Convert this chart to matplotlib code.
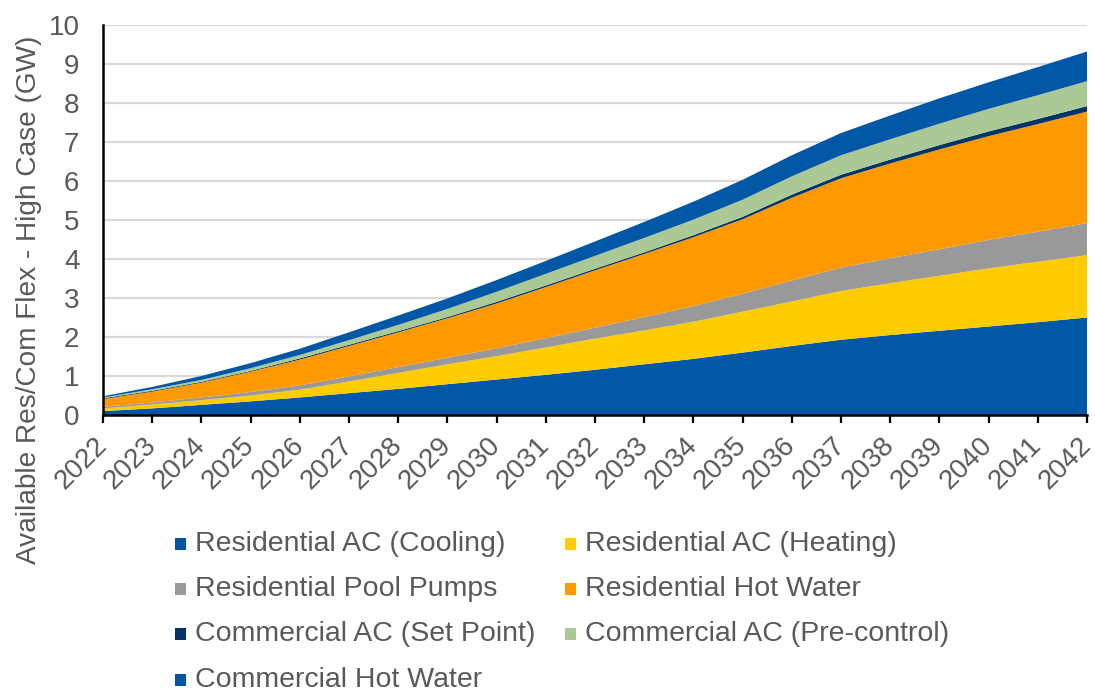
import matplotlib
matplotlib.use("Agg")
import matplotlib.pyplot as plt
from matplotlib.patches import Rectangle
import numpy as np

plt.rcParams['font.family'] = ['Liberation Sans', 'DejaVu Sans']

years = list(range(2022, 2043))

# available flexible capacity by end use, GW (stacked bottom to top)
res_ac_cooling = [0.10, 0.17, 0.26, 0.35, 0.45, 0.56, 0.67, 0.79, 0.91, 1.03, 1.16,
                  1.30, 1.44, 1.60, 1.77, 1.93, 2.05, 2.16, 2.27, 2.38, 2.50]
res_ac_heating = [0.07, 0.10, 0.12, 0.15, 0.20, 0.30, 0.41, 0.51, 0.60, 0.70, 0.80,
                  0.87, 0.95, 1.05, 1.14, 1.25, 1.33, 1.41, 1.49, 1.55, 1.60]
res_pool_pumps = [0.04, 0.05, 0.07, 0.09, 0.11, 0.13, 0.15, 0.17, 0.20, 0.24, 0.28,
                  0.34, 0.40, 0.46, 0.54, 0.60, 0.64, 0.68, 0.73, 0.77, 0.82]
res_hot_water = [0.20, 0.28, 0.38, 0.52, 0.66, 0.78, 0.89, 1.01, 1.15, 1.31, 1.47,
                 1.62, 1.77, 1.91, 2.12, 2.29, 2.43, 2.56, 2.66, 2.76, 2.86]
com_ac_setpoint = [0.02, 0.02, 0.02, 0.02, 0.03, 0.03, 0.03, 0.03, 0.04, 0.04, 0.04,
                   0.04, 0.05, 0.06, 0.08, 0.09, 0.10, 0.11, 0.12, 0.13, 0.14]
com_ac_precontrol = [0.02, 0.04, 0.05, 0.07, 0.09, 0.12, 0.16, 0.21, 0.26, 0.30, 0.33,
                     0.37, 0.40, 0.44, 0.47, 0.50, 0.52, 0.55, 0.58, 0.61, 0.64]
com_hot_water = [0.03, 0.06, 0.10, 0.13, 0.16, 0.20, 0.24, 0.27, 0.30, 0.33, 0.37,
                 0.41, 0.46, 0.51, 0.54, 0.57, 0.61, 0.65, 0.68, 0.72, 0.76]

labels = ['Residential AC (Cooling)', 'Residential AC (Heating)',
          'Residential Pool Pumps', 'Residential Hot Water',
          'Commercial AC (Set Point)', 'Commercial AC (Pre-control)',
          'Commercial Hot Water']
colors = ['#0057A5', '#FFCC00', '#999999', '#FF9900', '#003366', '#ABC995', '#0057A5']
series = [res_ac_cooling, res_ac_heating, res_pool_pumps, res_hot_water,
          com_ac_setpoint, com_ac_precontrol, com_hot_water]

W, H = 1095, 693
fig = plt.figure(figsize=(W / 100, H / 100), dpi=100)
ax = fig.add_axes([103 / W, 1 - 415 / H, (1087 - 103) / W, (415 - 25) / H])

ax.stackplot(years, *series, colors=colors, linewidth=0, zorder=2)

ax.set_xlim(2022, 2042)
ax.set_ylim(0, 10)
ax.set_xticks(years)
ax.set_yticks(range(0, 11))
ax.grid(axis='y', color='#D9D9D9', linewidth=1.6, zorder=0)
ax.set_axisbelow(True)

for side in ['top', 'right']:
    ax.spines[side].set_visible(False)
ax.spines['left'].set_linewidth(1.8)
ax.spines['bottom'].set_linewidth(1.8)
ax.spines['left'].set_zorder(3)
ax.spines['bottom'].set_zorder(3)

text_color = '#595959'
ax.tick_params(axis='y', length=0, pad=17, labelsize=20, labelcolor=text_color)
ax.tick_params(axis='x', length=6, width=1.6, pad=13, labelsize=20, labelcolor=text_color)
for lab in ax.get_xticklabels():
    lab.set_rotation(45)
    lab.set_ha('right')
    lab.set_va('center')
    lab.set_rotation_mode('anchor')

fig.text(29 / W, 1 - 300 / H, 'Available Res/Com Flex - High Case (GW)',
         rotation=90, ha='center', va='center', fontsize=20.2, color=text_color)

# legend laid out in two columns, row by row
col_x = [175, 565]
row_y = [544, 589, 634, 680]
for i, (lab, col) in enumerate(zip(labels, colors)):
    r, c = divmod(i, 2)
    x0, y0 = col_x[c], row_y[r]
    fig.patches.append(Rectangle((x0 / W, 1 - (y0 + 6) / H), 11 / W, 12 / H,
                                 transform=fig.transFigure, facecolor=col,
                                 edgecolor='none'))
    fig.text((x0 + 20) / W, 1 - y0 / H, lab, ha='left', va='center',
             fontsize=20.5, color=text_color)

fig.savefig('out.png', dpi=100)
